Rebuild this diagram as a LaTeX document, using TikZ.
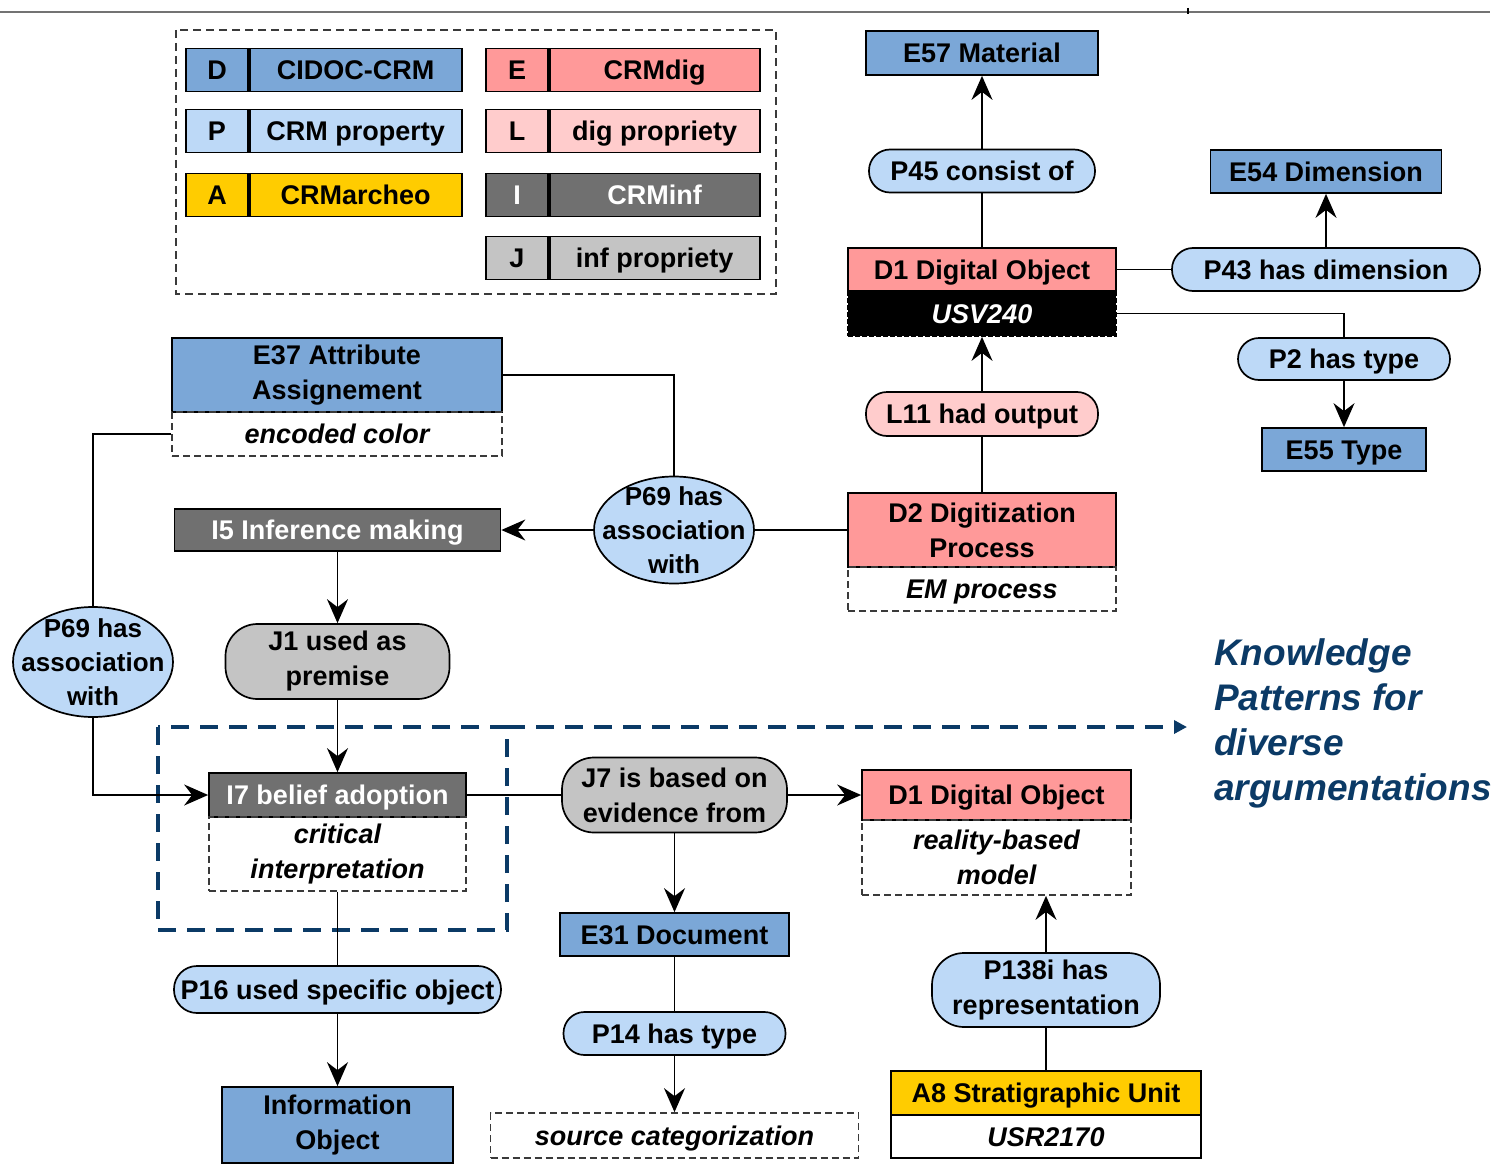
\documentclass[tikz,border=0pt]{standalone}
\usepackage{fontspec}
\setmainfont{Liberation Sans}
\usetikzlibrary{shapes.geometric,arrows.meta}
\definecolor{ent}{HTML}{7BA7D7}
\definecolor{prop}{HTML}{BDD9F7}
\definecolor{dig}{HTML}{FF9999}
\definecolor{digp}{HTML}{FFCCCC}
\definecolor{arch}{HTML}{FFCC00}
\definecolor{inf}{HTML}{707070}
\definecolor{infp}{HTML}{C4C4C4}
\definecolor{kp}{HTML}{0B3A66}
\definecolor{dashgray}{HTML}{3A3A3A}
\begin{document}
\begin{tikzpicture}[x=1pt,y=-1pt,
  every node/.style={font=\fontsize{27}{35}\selectfont\bfseries, inner sep=0pt, align=center},
  oneline/.style={text height=25pt, text depth=5.7pt},
  box/.style={draw, line width=1.7pt, rectangle},
  entbox/.style={box, fill=ent},
  digbox/.style={box, fill=dig},
  digpbox/.style={box, fill=digp, rounded corners=21pt},
  archbox/.style={box, fill=arch},
  infbox/.style={box, fill=inf, text=white},
  propbox/.style={box, fill=prop},
  proppill/.style={box, fill=prop, rounded corners=21pt},
  proppilltwo/.style={box, fill=prop, rounded corners=32pt},
  infppill/.style={box, fill=infp, rounded corners=32pt},
  infpbox/.style={box, fill=infp},
  propell/.style={draw, line width=1.7pt, ellipse, fill=prop},
  notebox/.style={draw=dashgray, line width=1.7pt, dash pattern=on 7pt off 4pt, rectangle, font=\fontsize{27}{35}\selectfont\bfseries\itshape},
  conn/.style={line width=1.8pt},
  arr/.style={line width=1.8pt, -{Stealth[length=24pt,width=21pt,inset=8pt]}},
  kpline/.style={draw=kp, line width=4pt, dash pattern=on 18pt off 11pt},
]
\useasboundingbox (0,0) rectangle (1501,1169);

% top rule
\coordinate (ruleL) at (0,12);
\coordinate (ruleR) at (1490,12);
\draw[line width=2.5pt, black!55] (ruleL) -- (ruleR);
\coordinate (tickT) at (1188,8);
\coordinate (tickB) at (1188,14);
\draw[line width=1.2pt, black] (tickT) -- (tickB);

% legend
\draw[draw=dashgray, line width=1.8pt, dash pattern=on 8pt off 5pt] (176,30) rectangle (776,294);
\node[entbox, oneline, minimum width=62pt, minimum height=43pt] (lgD) at (217,70) {D};
\node[entbox, oneline, minimum width=212pt, minimum height=43pt, anchor=west] (lgDt) at (lgD.east) {CIDOC-CRM};
\node[propbox, oneline, minimum width=62pt, minimum height=43pt] (lgP) at (217,131) {P};
\node[propbox, oneline, minimum width=212pt, minimum height=43pt, anchor=west] (lgPt) at (lgP.east) {CRM property};
\node[archbox, oneline, minimum width=62pt, minimum height=43pt] (lgA) at (217,195) {A};
\node[archbox, oneline, minimum width=212pt, minimum height=43pt, anchor=west] (lgAt) at (lgA.east) {CRMarcheo};
\node[digbox, oneline, minimum width=62pt, minimum height=43pt] (lgE) at (517,70) {E};
\node[digbox, oneline, minimum width=210pt, minimum height=43pt, anchor=west] (lgEt) at (lgE.east) {CRMdig};
\node[box, oneline, fill=digp, minimum width=62pt, minimum height=43pt] (lgL) at (517,131) {L};
\node[box, oneline, fill=digp, minimum width=210pt, minimum height=43pt, anchor=west] (lgLt) at (lgL.east) {dig propriety};
\node[infbox, oneline, minimum width=62pt, minimum height=43pt] (lgI) at (517,195) {I};
\node[infbox, oneline, minimum width=210pt, minimum height=43pt, anchor=west] (lgIt) at (lgI.east) {CRMinf};
\node[infpbox, oneline, minimum width=62pt, minimum height=43pt] (lgJ) at (517,258) {J};
\node[infpbox, oneline, minimum width=210pt, minimum height=43pt, anchor=west] (lgJt) at (lgJ.east) {inf propriety};

% top right cluster
\node[entbox, oneline, minimum width=232pt, minimum height=44pt] (e57) at (982,53) {E57 Material};
\node[proppill, oneline, minimum width=226pt, minimum height=43pt] (p45) at (982,171) {P45 consist of};
\node[digbox, oneline, minimum width=268pt, minimum height=43pt] (d1a) at (982,269.5) {D1 Digital Object};
\node[box, oneline, fill=black, dash pattern=on 5pt off 2pt, minimum width=268pt, minimum height=45pt, text=white,
      font=\fontsize{27}{35}\selectfont\bfseries\itshape] (d1b) at (982,313.5) {USV240};
\node[entbox, oneline, minimum width=231pt, minimum height=43pt] (e54) at (1326,171.5) {E54 Dimension};
\node[proppill, oneline, minimum width=308pt, minimum height=43pt] (p43) at (1326,269.5) {P43 has dimension};
\node[proppill, oneline, minimum width=212pt, minimum height=42pt] (p2) at (1344,359) {P2 has type};
\node[entbox, oneline, minimum width=164pt, minimum height=43pt] (e55) at (1344,449.5) {E55 Type};
\node[digpbox, oneline, minimum width=232pt, minimum height=44pt] (l11) at (982,414) {L11 had output};
\node[digbox, minimum width=268pt, minimum height=74pt] (d2a) at (982,530) {D2 Digitization\\Process};
\node[notebox, oneline, minimum width=268pt, minimum height=44pt] (d2b) at (982,589) {EM process};

% middle
\node[propell, minimum width=160pt, minimum height=107pt] (p69m) at (674,530) {};
\node[font=\fontsize{26}{34}\selectfont\bfseries] (p69mtext) at (p69m) {P69 has\\association\\with};
\node[entbox, minimum width=330pt, minimum height=74pt] (e37a) at (337,375) {E37 Attribute\\Assignement};
\node[notebox, oneline, minimum width=330pt, minimum height=44pt] (e37b) at (337,434) {encoded color};
\node[infbox, oneline, minimum width=326pt, minimum height=42pt] (i5) at (337.5,530) {I5 Inference making};
\node[infppill, minimum width=224pt, minimum height=75pt] (j1) at (337.5,661.5) {J1 used as\\premise};
\node[propell, minimum width=160pt, minimum height=110pt] (p69l) at (93,662) {};
\node[font=\fontsize{26}{34}\selectfont\bfseries] (p69ltext) at (p69l) {P69 has\\association\\with};

% knowledge pattern frame
\draw[kpline] (158,727) rectangle (507,930);
\coordinate (kpNE) at (507,727);
\coordinate (kpend) at (1187,727);
\draw[kpline, -{Triangle[length=13pt,width=13pt]}] (kpNE) -- (kpend);
\node[font=\fontsize{37}{45}\selectfont\bfseries\itshape, text=kp, align=left, anchor=west] (kptext) at (1214,723)
  {Knowledge\\Patterns for\\diverse\\argumentations};

\node[infbox, oneline, minimum width=257pt, minimum height=44pt] (i7a) at (337.5,795) {I7 belief adoption};
\node[notebox, minimum width=257pt, minimum height=74pt] (i7b) at (337.5,854) {critical\\interpretation};

% bottom
\node[infppill, minimum width=225pt, minimum height=75pt] (j7) at (674.5,795) {J7 is based on\\evidence from};
\node[digbox, oneline, minimum width=269pt, minimum height=50pt] (d1c) at (996.5,795) {D1 Digital Object};
\node[notebox, minimum width=269pt, minimum height=75pt] (d1d) at (996.5,857.5) {reality-based\\model};
\node[entbox, oneline, minimum width=229pt, minimum height=43pt] (e31) at (674.5,934.5) {E31 Document};
\node[proppill, oneline, minimum width=222pt, minimum height=43pt] (p14) at (674.5,1033.5) {P14 has type};
\node[notebox, oneline, minimum width=368pt, minimum height=45pt] (src) at (674.5,1135.5) {source categorization};
\node[proppilltwo, minimum width=228pt, minimum height=74pt] (p138) at (1046,990) {P138i has\\representation};
\node[archbox, oneline, minimum width=310pt, minimum height=44pt] (a8a) at (1046,1093) {A8 Stratigraphic Unit};
\node[box, oneline, fill=white, minimum width=310pt, minimum height=43pt, font=\fontsize{27}{35}\selectfont\bfseries\itshape] (a8b) at (1046,1136.5) {USR2170};
\node[proppill, oneline, minimum width=327pt, minimum height=47pt, rounded corners=23pt] (p16) at (337.5,989.5) {P16 used specific object};
\node[entbox, minimum width=231pt, minimum height=76pt] (io) at (337.5,1125) {Information\\Object};

% connectors
\draw[conn] (d1a) -- (p45);
\draw[arr] (p45) -- (e57);
\draw[conn] (d1a.east) -- (p43.west);
\draw[arr] (p43) -- (e54);
\draw[conn] (d1b.east) -| (p2.north);
\draw[arr] (p2) -- (e55);
\draw[conn] (d2a) -- (l11);
\draw[arr] (l11) -- (d1b);
\draw[conn] (d2a.west) -- (p69m.east);
\draw[arr] (p69m.west) -- (i5.east);
\draw[conn] (p69m.north) |- (e37a.east);
\draw[arr] (i5) -- (j1);
\draw[arr] (j1) -- (i7a);
\draw[conn] (e37b.west) -| (p69l.north);
\draw[arr] (p69l.south) |- (i7a.west);
\draw[conn] (i7a.east) -- (j7.west);
\draw[arr] (j7.east) -- (d1c.west);
\draw[arr] (j7) -- (e31);
\draw[conn] (e31) -- (p14);
\draw[arr] (p14) -- (src);
\draw[conn] (i7b) -- (p16);
\draw[arr] (p16) -- (io);
\draw[conn] (a8a) -- (p138);
\draw[arr] (p138.north) -- (p138.north |- d1d.south);
\end{tikzpicture}
\end{document}
